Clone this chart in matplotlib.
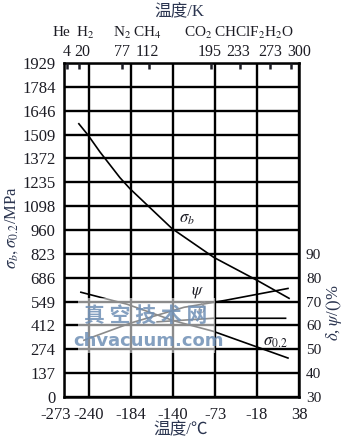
import numpy as np
import matplotlib
matplotlib.use('Agg')
import matplotlib.pyplot as plt
from matplotlib.patches import Rectangle
from matplotlib.transforms import ScaledTranslation

# ---------------- data ----------------
# bottom axis: the original chart is linear in degF, labelled in degC
bottom_ticks_F = [-459.67, -400, -300, -200, -100, 0, 100]
bottom_tick_labels = ['-273', '-240', '-184', '-140', '-73', '-18', '38']
top_ticks_K = [4, 20, 77, 112, 195, 233, 273, 300]
gas_names = ['He', 'H$_2$', 'N$_2$', 'CH$_4$', 'CO$_2$', 'CHClF$_2$', 'H$_2$O']
gas_K = [4, 20, 77, 112, 195, 233, 273]
left_tick_labels = ['0', '137', '274', '412', '549', '686', '823', '960',
                    '1098', '1235', '1372', '1509', '1646', '1784', '1929']
left_max = 1929
right_ticks = [30, 40, 50, 60, 70, 80, 90]

# curves (temperature in degC)
sb_T = [-253.5, -241.6, -225.7, -199.2, -185.9, -130.3, -74.8, -17.8, 24.6]
sb_v = [1578, 1514, 1416, 1267, 1203, 973, 806, 674, 570]
s02_T = [-250.8, -189.9, -127.7, -76.1, 23.2]
s02_v = [605, 536, 440, 380, 225]
psi_T = [-246.8, -185.0, -114.4, -60.0, 23.2]
psi_v = [53.8, 61.0, 67.6, 70.5, 75.5]
delta_T = [-150.0, -76.1, 20.0]
delta_v = [61.5, 63.0, 63.0]


def c2f(c):
    return np.asarray(c) * 9.0 / 5.0 + 32.0


def k2f(k):
    return c2f(np.asarray(k) - 273.15)


plt.rcParams['font.family'] = ['Liberation Serif', 'Noto Sans CJK SC', 'DejaVu Sans']
plt.rcParams['mathtext.fontset'] = 'stix'

W, H = 346, 441
fig = plt.figure(figsize=(W / 100, H / 100), dpi=100)
ax = fig.add_axes([64 / W, 1 - 397 / H, 235 / W, 334 / H])

tick_col = '#1c1c24'
lab_col = '#2b3550'


def shift(label, dx_px):
    label.set_transform(label.get_transform() + ScaledTranslation(dx_px / 100, 0, fig.dpi_scale_trans))


ax.set_xlim(bottom_ticks_F[0], bottom_ticks_F[-1])
ax.set_ylim(0, left_max)
ypos = np.arange(len(left_tick_labels)) * left_max / (len(left_tick_labels) - 1)
ax.set_yticks(ypos)
ax.set_yticklabels(left_tick_labels)
ax.set_xticks(bottom_ticks_F)
ax.set_xticklabels(bottom_tick_labels)
ax.tick_params(axis='both', length=0, labelsize=12, colors=tick_col)
ax.tick_params(axis='y', pad=6)
ax.tick_params(axis='x', pad=7)
shift(ax.get_xticklabels()[0], -8)
ax.grid(True, color='black', lw=1.7)
ax.set_axisbelow(True)
for s in ax.spines.values():
    s.set_linewidth(1.8)
    s.set_color('black')

lw = 1.2
ax.plot(c2f(sb_T), sb_v, color='black', lw=lw, zorder=3)
ax.plot(c2f(s02_T), s02_v, color='black', lw=lw, zorder=3)

# right axis (%)
axr = ax.twinx()
axr.set_ylim(30, 30 + 10 * (len(left_tick_labels) - 1))
axr.set_yticks(right_ticks)
axr.tick_params(axis='y', length=0, labelsize=11, colors=tick_col, pad=5)
for s in axr.spines.values():
    s.set_visible(False)
axr.plot(c2f(psi_T), psi_v, color='black', lw=lw, zorder=3)
axr.plot(c2f(delta_T), delta_v, color='black', lw=lw, zorder=3)

# top axis (K)
axt = ax.twiny()
axt.set_xlim(ax.get_xlim())
axt.set_xticks(k2f(top_ticks_K))
axt.set_xticklabels([str(k) for k in top_ticks_K])
axt.tick_params(axis='x', direction='in', length=4, width=1.8, labelsize=11.5,
                colors=tick_col, pad=2)
top_dx = [0, 3, 0, -1, -2, -2, 0, 8]
for lab, dx in zip(axt.get_xticklabels(), top_dx):
    shift(lab, dx)
for s in axt.spines.values():
    s.set_visible(False)

gas_dx = [-6, 6, 0, -1, -13, 0, 9]
for name, k, dx in zip(gas_names, gas_K, gas_dx):
    axt.annotate(name, xy=(k2f(k), 1), xycoords=('data', 'axes fraction'),
                 xytext=(dx, 30), textcoords='offset pixels', ha='center', va='center',
                 fontsize=11, color=tick_col, annotation_clip=False)

# curve labels
ax.text(c2f(-111), 1030, r'$\sigma_b$', fontsize=12, color=tick_col, ha='center', va='center')
axr.text(c2f(-97), 73.6, r'$\psi$', fontsize=12, color=tick_col, ha='center', va='center')
axr.text(c2f(-90.6), 66.8, r'$\delta$', fontsize=12, color=tick_col, ha='center', va='center')
ax.text(c2f(6), 317, r'$\sigma_{0.2}$', fontsize=12, color=tick_col, ha='center', va='center')

# axis titles
fig.text(179 / W, 1 - 12 / H, '温度/K', fontsize=12, color=lab_col, ha='center', va='center',
         family=['Liberation Serif', 'Noto Sans CJK SC'])
fig.text(181 / W, 1 - 430 / H, '温度/℃', fontsize=12, color=lab_col, ha='center', va='center',
         family=['Liberation Serif', 'Noto Sans CJK SC', 'DejaVu Sans'])
fig.text(12 / W, 1 - 228 / H, r'$\sigma_b, \sigma_{0.2}$/MPa', fontsize=12, color=lab_col,
         rotation=90, ha='center', va='center')
fig.text(334 / W, 1 - 313 / H, r'$\delta$, $\psi$/()%', fontsize=12, color=lab_col,
         rotation=90, ha='center', va='center')

# watermark
fig.patches.append(Rectangle((78 / W, 1 - 353 / H), 137 / W, 55 / H, transform=fig.transFigure,
                             facecolor='white', alpha=0.55, edgecolor='none', zorder=10))
fig.text(146 / W, 1 - 315 / H, '真 空 技 术 网', fontsize=15, color='#6f8fb5', alpha=0.85,
         ha='center', va='center', family=['Noto Sans CJK SC'], weight='bold', zorder=11)
fig.text(148 / W, 1 - 341 / H, 'chvacuum.com', fontsize=13, color='#6f8fb5', alpha=0.85,
         ha='center', va='center', family=['DejaVu Sans'], weight='bold', zorder=11)

fig.savefig('out.png', dpi=100)
